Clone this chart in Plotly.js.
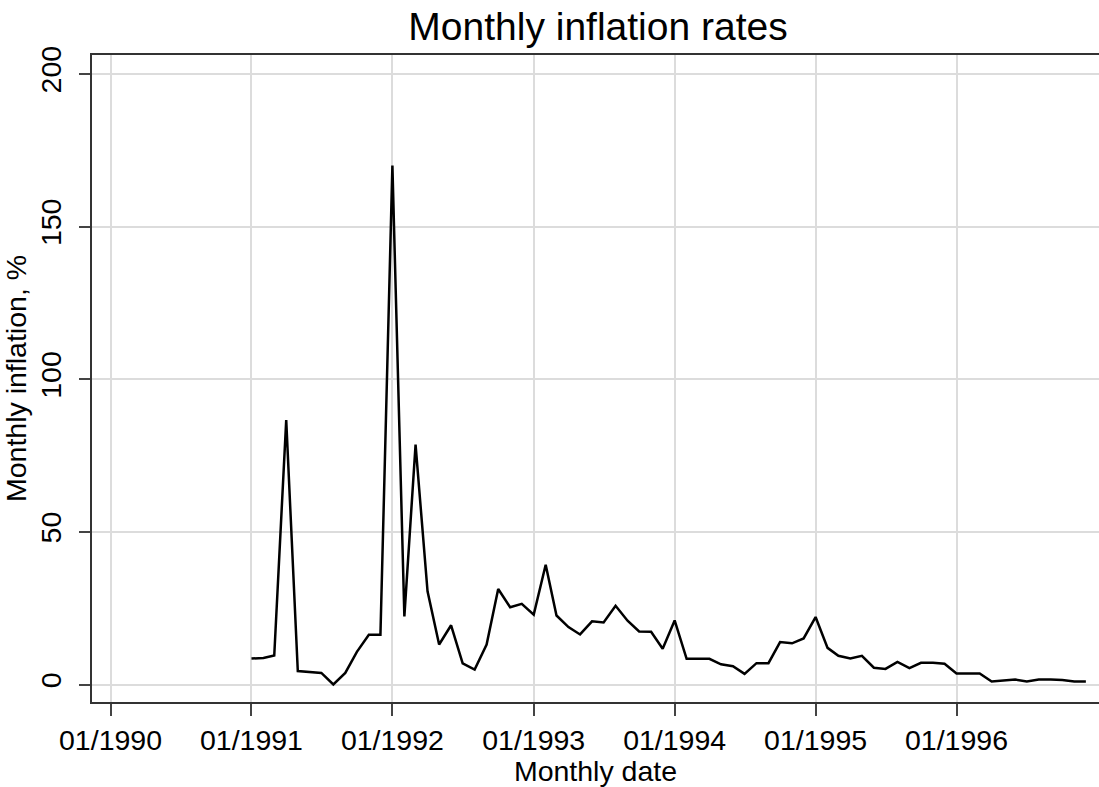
<!DOCTYPE html>
<html>
<head>
<meta charset="utf-8">
<script src="https://cdn.plot.ly/plotly-3.0.1.min.js"></script>
<style>
  html, body { margin: 0; padding: 0; background: #ffffff; }
  #chart { width: 1099px; height: 787px; }
</style>
</head>
<body>
<div id="chart"></div>
<script>
// Monthly inflation (%), January to December of each year
const infl1991 = [8.5, 8.7, 9.5, 86.6, 4.4, 4.0, 3.8, 0.0, 3.8, 10.7, 16.3, 16.3];
const infl1992 = [170.0, 22.3, 78.6, 30.5, 13.1, 19.4, 6.9, 4.9, 13.1, 31.3, 25.3, 26.4];
const infl1993 = [22.9, 39.2, 22.6, 18.8, 16.4, 20.7, 20.3, 25.8, 20.9, 17.4, 17.3, 11.7];
const infl1994 = [21.0, 8.4, 8.4, 8.4, 6.6, 6.0, 3.5, 7.0, 7.0, 13.9, 13.5, 15.1];
const infl1995 = [22.1, 12.0, 9.4, 8.5, 9.4, 5.5, 5.1, 7.4, 5.4, 7.1, 7.1, 6.8];
const infl1996 = [3.6, 3.6, 3.6, 1.0, 1.2, 1.6, 1.0, 1.6, 1.6, 1.5, 1.0, 1.0];
const dataYears = [1991, 1992, 1993, 1994, 1995, 1996];

const tickDates  = ['1990-01-01', '1991-01-01', '1992-01-01', '1993-01-01', '1994-01-01', '1995-01-01', '1996-01-01'];
const tickLabels = ['01/1990', '01/1991', '01/1992', '01/1993', '01/1994', '01/1995', '01/1996'];
const yTicks = [0, 50, 100, 150, 200];

const series = [infl1991, infl1992, infl1993, infl1994, infl1995, infl1996];
const xs = [], ys = [];
series.forEach((vals, i) => {
  vals.forEach((v, m) => {
    xs.push(dataYears[i] + '-' + String(m + 1).padStart(2, '0') + '-01');
    ys.push(v);
  });
});

const FONT = 'Liberation Sans, Arial, sans-serif';

const trace = {
  type: 'scatter',
  mode: 'lines',
  x: xs,
  y: ys,
  line: { color: '#000000', width: 2.5 },
  hoverinfo: 'x+y'
};

const layout = {
  width: 1099,
  height: 787,
  paper_bgcolor: '#ffffff',
  plot_bgcolor: '#ffffff',
  margin: { l: 92, r: 0, t: 55, b: 85 },
  showlegend: false,
  font: { family: FONT, color: '#000000' },
  title: {
    text: 'Monthly inflation rates',
    font: { family: FONT, size: 39, color: '#000000' },
    x: 0.5025,
    xref: 'paper',
    xanchor: 'center',
    y: 0.966,
    yref: 'container',
    yanchor: 'middle'
  },
  xaxis: {
    type: 'date',
    range: ['1989-11-14', '1997-01-04'],
    tickmode: 'array',
    tickvals: tickDates,
    ticktext: tickLabels,
    tickangle: 0,
    tickfont: { family: FONT, size: 28.5, color: '#000000' },
    ticks: 'outside',
    ticklen: 12,
    tickwidth: 1.5,
    tickcolor: '#444444',
    showline: true,
    linecolor: '#333333',
    linewidth: 2,
    mirror: true,
    showgrid: true,
    gridcolor: '#dcdcdc',
    gridwidth: 1.5,
    zeroline: false,
    title: {
      text: 'Monthly date',
      font: { family: FONT, size: 28.5, color: '#000000' },
      standoff: 0
    }
  },
  yaxis: {
    range: [-5.73, 206.2],
    tickmode: 'array',
    tickvals: yTicks,
    ticktext: yTicks.map(String),
    tickangle: -90,
    tickfont: { family: FONT, size: 28.5, color: '#000000' },
    ticks: 'outside',
    ticklen: 11,
    tickwidth: 1.5,
    tickcolor: '#444444',
    ticklabelstandoff: 7,
    showline: true,
    linecolor: '#333333',
    linewidth: 2,
    mirror: false,
    showgrid: true,
    gridcolor: '#dcdcdc',
    gridwidth: 1.5,
    zeroline: false,
    title: {
      text: 'Monthly inflation, %',
      font: { family: FONT, size: 28.5, color: '#000000' },
      standoff: 0
    }
  }
};

Plotly.newPlot('chart', [trace], layout, { displayModeBar: false, staticPlot: false });
</script>
</body>
</html>
